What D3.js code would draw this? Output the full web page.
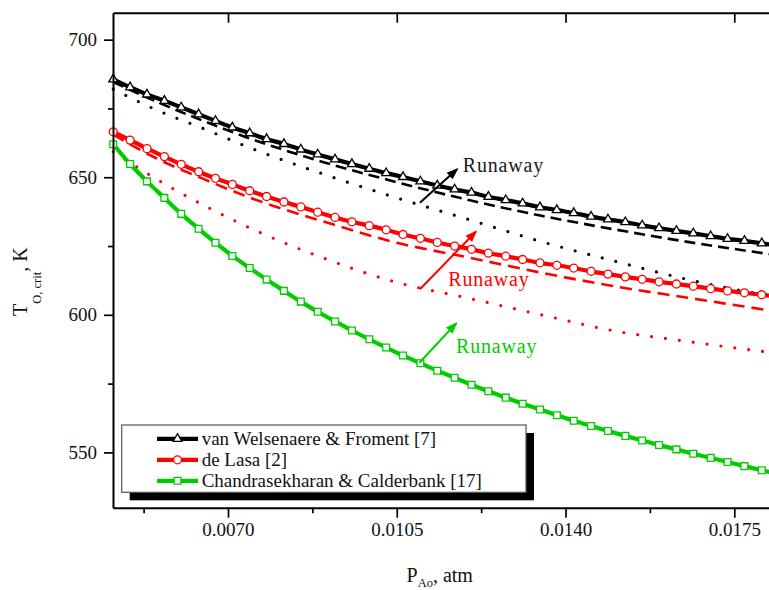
<!DOCTYPE html>
<html>
<head>
<meta charset="utf-8">
<script src="https://cdn.jsdelivr.net/npm/d3@7"></script>
<style>
  html, body { margin: 0; padding: 0; background: #fff; }
  svg { display: block; font-family: 'Liberation Serif', 'Times New Roman', serif; }
</style>
</head>
<body>
<svg id="chart" width="769" height="590"></svg>
<script>
// --- Values ---
// P_Ao (atm) where the markers sit
const pGrid = [0.00462, 0.00497, 0.00532, 0.00568, 0.00603, 0.00639, 0.00674, 0.00709, 0.00745, 0.00780,
               0.00816, 0.00851, 0.00886, 0.00922, 0.00957, 0.00993, 0.01028, 0.01063, 0.01099, 0.01134,
               0.01170, 0.01205, 0.01240, 0.01276, 0.01311, 0.01347, 0.01382, 0.01417, 0.01453, 0.01488,
               0.01524, 0.01559, 0.01594, 0.01630, 0.01665, 0.01701, 0.01736, 0.01771, 0.01807, 0.01842];

const tVanWelsenaere = [685.6, 682.7, 680.1, 677.8, 675.4, 672.9, 670.5, 668.1, 666.0, 663.9,
                        662.1, 660.1, 658.3, 656.5, 654.8, 653.1, 651.5, 650.1, 648.5, 647.0,
                        645.6, 644.4, 642.9, 641.7, 640.5, 639.1, 638.1, 637.0, 635.7, 634.7,
                        633.7, 632.5, 631.5, 630.5, 629.6, 628.6, 627.6, 626.9, 626.0, 625.1];

const tDeLasa = [666.5, 663.5, 660.4, 657.5, 654.7, 652.0, 649.6, 647.4, 645.1, 643.0,
                 641.0, 639.2, 637.3, 635.4, 633.8, 632.4, 630.9, 629.2, 627.8, 626.3,
                 625.0, 623.8, 622.4, 621.3, 620.1, 618.9, 618.0, 617.0, 615.8, 614.8,
                 613.8, 612.9, 612.0, 611.2, 610.4, 609.5, 608.7, 608.0, 607.3, 606.6];

const tChandrasekharan = [662.0, 654.8, 648.5, 642.5, 636.7, 631.3, 626.2, 621.4, 617.0, 612.8,
                          608.7, 604.8, 601.1, 597.6, 594.3, 591.1, 588.1, 585.2, 582.4, 579.7,
                          577.1, 574.6, 572.2, 569.9, 567.7, 565.6, 563.5, 561.5, 559.6, 557.8,
                          556.0, 554.3, 552.7, 551.1, 549.5, 548.0, 546.5, 545.0, 543.5, 542.1];

// dashed / dotted companion curves (no markers)
const pCoarse = [0.00462, 0.0055, 0.0065, 0.0075, 0.0090, 0.0105, 0.0120, 0.0135, 0.0150, 0.0165, 0.0183];
const tVanDashed  = [684.6, 677.6, 670.4, 663.8, 655.4, 648.2, 641.7, 636.0, 631.1, 626.6, 621.9];
const tVanDotted  = [682.0, 674.6, 667.6, 660.4, 651.0, 642.5, 634.6, 626.6, 619.6, 613.0, 606.6];
const tLasaDashed = [665.5, 657.0, 649.3, 642.3, 633.8, 626.2, 620.8, 615.3, 610.4, 606.3, 601.4];
const tLasaDotted = [659.3, 649.5, 639.8, 631.2, 620.5, 611.8, 606.0, 600.0, 594.2, 590.4, 586.2];

// axis ticks
const xTicks = [0.0070, 0.0105, 0.0140, 0.0175];
const xMinor = [0.00525, 0.00875, 0.01225, 0.01575];
const yTicks = [550, 600, 650, 700];
const yMinor = [575, 625, 675];

const legendLabels = ['van Welsenaere & Froment [7]', 'de Lasa [2]', 'Chandrasekharan & Calderbank [17]'];

// "Runaway" annotations, in data units [P, T]
const arrowFrom = [[0.01098, 640.7], [0.01098, 609.3], [0.01097, 582.6]];
const arrowTo   = [[0.01175, 652.9], [0.01214, 630.2], [0.01173, 596.9]];
const labelAt   = [[0.01187, 652.0], [0.01157, 610.5], [0.01173, 586.2]];

// --- Setup ---
const colors = { black: '#000000', red: '#ff0000', green: '#00cc00' };
const plot = { left: 113, right: 773, top: 12.7, bottom: 507.7 };

const svg = d3.select('#chart');

const x = d3.scaleLinear().domain([0.004615, 0.018303]).range([plot.left, plot.right]);
const y = d3.scaleLinear().domain([529.9, 709.8]).range([plot.bottom, plot.top]);

const line = d3.line()
    .x(d => x(d[0]))
    .y(d => y(d[1]))
    .curve(d3.curveMonotoneX);

const zip = (xs, ys) => xs.map((v, i) => [v, ys[i]]);

// --- Companion curves (dashed / dotted) ---
const companions = [
    { pts: zip(pCoarse, tVanDashed),  color: colors.black, dash: '11,6',  width: 2.6, cap: 'butt' },
    { pts: zip(pCoarse, tVanDotted),  color: colors.black, dash: '0,14',  width: 3.2, cap: 'round' },
    { pts: zip(pCoarse, tLasaDashed), color: colors.red,   dash: '12,7',  width: 2.6, cap: 'butt' },
    { pts: zip(pCoarse, tLasaDotted), color: colors.red,   dash: '0,14',  width: 3.2, cap: 'round' }
];

svg.append('g').selectAll('path')
    .data(companions)
    .join('path')
    .attr('d', d => line(d.pts))
    .attr('fill', 'none')
    .attr('stroke', d => d.color)
    .attr('stroke-width', d => d.width)
    .attr('stroke-dasharray', d => d.dash)
    .attr('stroke-linecap', d => d.cap);

// --- Main series with markers ---
const series = [
    { name: legendLabels[0], vals: tVanWelsenaere,   color: colors.black, symbol: d3.symbolTriangle, size: 34 },
    { name: legendLabels[1], vals: tDeLasa,          color: colors.red,   symbol: d3.symbolCircle,   size: 50 },
    { name: legendLabels[2], vals: tChandrasekharan, color: colors.green, symbol: d3.symbolSquare,   size: 46 }
];

series.forEach(s => {
    const pts = zip(pGrid, s.vals);
    const g = svg.append('g');
    g.append('path')
        .attr('d', line(pts))
        .attr('fill', 'none')
        .attr('stroke', s.color)
        .attr('stroke-width', 4.2)
        .attr('stroke-linejoin', 'round');
    g.selectAll('path.mk')
        .data(pts)
        .join('path')
        .attr('class', 'mk')
        .attr('transform', d => `translate(${x(d[0])},${y(d[1])})`)
        .attr('d', d3.symbol(s.symbol, s.size))
        .attr('fill', '#fff')
        .attr('stroke', s.color)
        .attr('stroke-width', 1.3);
});

// --- Runaway arrows ---
const defs = svg.append('defs');
const arrowColors = [colors.black, colors.red, colors.green];
arrowColors.forEach((c, i) => {
    defs.append('marker')
        .attr('id', 'head' + i)
        .attr('viewBox', '0 -5 12 10')
        .attr('refX', 10)
        .attr('refY', 0)
        .attr('markerUnits', 'userSpaceOnUse')
        .attr('markerWidth', 13)
        .attr('markerHeight', 10)
        .attr('orient', 'auto')
        .append('path')
        .attr('d', 'M0,-4.5L12,0L0,4.5Z')
        .attr('fill', c);
});

const ann = svg.append('g');
arrowFrom.forEach((a, i) => {
    ann.append('line')
        .attr('x1', x(a[0])).attr('y1', y(a[1]))
        .attr('x2', x(arrowTo[i][0])).attr('y2', y(arrowTo[i][1]))
        .attr('stroke', arrowColors[i])
        .attr('stroke-width', 2)
        .attr('marker-end', `url(#head${i})`);
    ann.append('text')
        .attr('x', x(labelAt[i][0]))
        .attr('y', y(labelAt[i][1]))
        .attr('fill', i === 0 ? '#1a1a1a' : arrowColors[i])
        .attr('font-size', 20)
        .attr('letter-spacing', 0.8)
        .text('Runaway');
});

// --- Axes ---
const styleAxis = g => {
    g.selectAll('.domain').attr('stroke', '#000').attr('stroke-width', 2);
    g.selectAll('.tick line').attr('stroke', '#000').attr('stroke-width', 1.7);
    g.selectAll('.tick text').attr('fill', '#111').attr('font-size', 19)
        .attr('font-family', "'Liberation Serif', 'Times New Roman', serif");
};

svg.append('g')
    .attr('transform', `translate(0,${plot.bottom})`)
    .call(d3.axisBottom(x).tickValues(xTicks).tickSize(10).tickSizeOuter(0).tickPadding(5)
        .tickFormat(d3.format('.4f')))
    .call(styleAxis);

svg.append('g')
    .attr('transform', `translate(0,${plot.bottom})`)
    .call(d3.axisBottom(x).tickValues(xMinor).tickSize(5.5).tickFormat(''))
    .call(g => g.select('.domain').remove())
    .call(styleAxis);

svg.append('g')
    .attr('transform', `translate(0,${plot.top})`)
    .call(d3.axisTop(x).tickValues(xTicks).tickSize(-10).tickSizeOuter(0).tickFormat(''))
    .call(styleAxis);

svg.append('g')
    .attr('transform', `translate(${plot.left},0)`)
    .call(d3.axisLeft(y).tickValues(yTicks).tickSize(9).tickSizeOuter(0).tickPadding(7))
    .call(styleAxis);

svg.append('g')
    .attr('transform', `translate(${plot.left},0)`)
    .call(d3.axisLeft(y).tickValues(yMinor).tickSize(5).tickFormat(''))
    .call(g => g.select('.domain').remove())
    .call(styleAxis);

// --- Axis titles ---
const xTitle = svg.append('text')
    .attr('x', 406.5)
    .attr('y', 582)
    .attr('font-size', 20)
    .attr('fill', '#111');
xTitle.append('tspan').text('P');
xTitle.append('tspan').attr('font-size', 12.5).attr('dy', 5).text('Ao');
xTitle.append('tspan').attr('dy', -5).text(', atm');

const yTitle = svg.append('text')
    .attr('transform', 'translate(26.7,316) rotate(-90)')
    .attr('font-size', 20)
    .attr('fill', '#111');
yTitle.append('tspan').text('T');
yTitle.append('tspan').attr('font-size', 12.5).attr('dy', 14).text('O, crit');
yTitle.append('tspan').attr('dy', -14).text(', K');

// --- Legend ---
const legend = svg.append('g');
legend.append('rect')
    .attr('x', 129.7).attr('y', 433)
    .attr('width', 404.3).attr('height', 67.3)
    .attr('fill', '#000');
legend.append('rect')
    .attr('x', 121.7).attr('y', 425)
    .attr('width', 404.3).attr('height', 67.3)
    .attr('fill', '#fff')
    .attr('stroke', '#555')
    .attr('stroke-width', 1.2);

series.forEach((s, i) => {
    const ly = 438.8 + i * 21;
    legend.append('line')
        .attr('x1', 157).attr('x2', 198)
        .attr('y1', ly).attr('y2', ly)
        .attr('stroke', s.color)
        .attr('stroke-width', 4.2);
    legend.append('path')
        .attr('transform', `translate(177.5,${ly})`)
        .attr('d', d3.symbol(s.symbol, s.size))
        .attr('fill', '#fff')
        .attr('stroke', s.color)
        .attr('stroke-width', 1.3);
    legend.append('text')
        .attr('x', 201.7)
        .attr('y', ly)
        .attr('dy', '0.32em')
        .attr('font-size', 19)
        .attr('fill', '#111')
        .text(s.name);
});
</script>
</body>
</html>
